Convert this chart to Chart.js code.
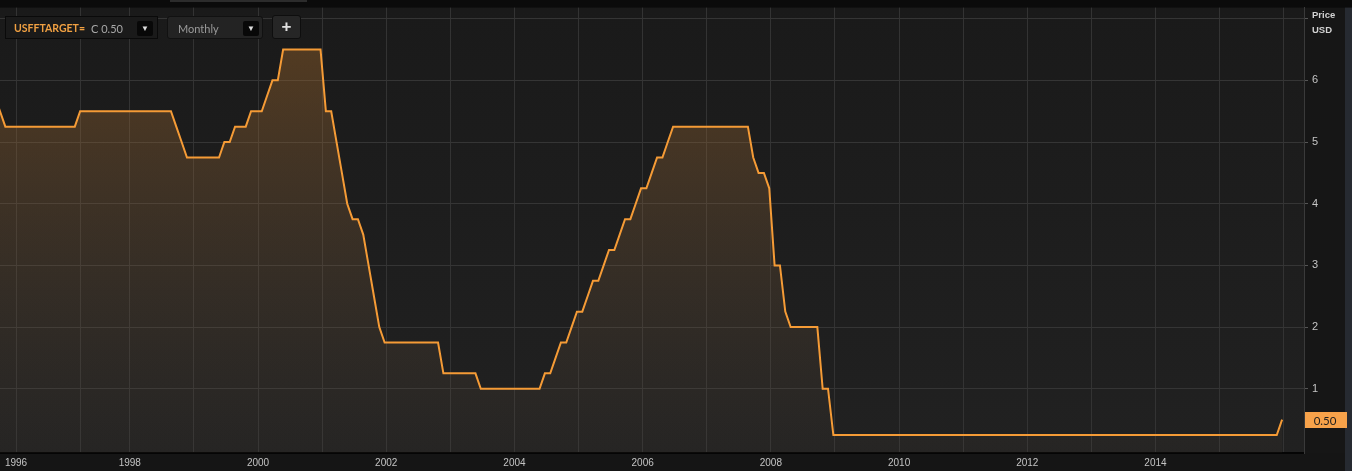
<!DOCTYPE html>
<html>
<head>
<meta charset="utf-8">
<script src="https://cdn.jsdelivr.net/npm/chart.js@4.4.1/dist/chart.umd.min.js"></script>
<style>
  html, body { margin: 0; padding: 0; background: #0b0b0b; }
  body { width: 1352px; height: 471px; position: relative; overflow: hidden; font-family: "Liberation Sans", Arial, sans-serif; }
  #topbar { position: absolute; left: 0; top: 0; width: 1352px; height: 7px; background: #0b0b0b; }
  #topbar .tab { position: absolute; left: 170px; top: 0; width: 137px; height: 2px; background: #2c2c2c; }
  #wrap { position: absolute; left: 0; top: -3px; width: 1352px; height: 474px; }
  .ctl { position: absolute; top: 16px; height: 23px; box-sizing: border-box; font-size: 11px; line-height: 23px; }
  #ric { left: 5px; width: 153px; background: #1a1a1a; border: 1px solid #0a0a0a; }
  #ric .code { position: absolute; left: 8px; color: #f0a042; font-family: Lato, sans-serif; font-weight: bold; font-size: 10.5px; }
  #ric .val { position: absolute; left: 85px; color: #a8a8a8; font-family: Lato, sans-serif; font-size: 11px; }
  .drop { position: absolute; top: 4px; width: 16px; height: 15px; background: #080808; border-radius: 2px; color: #ddd; font-size: 8px; line-height: 15px; text-align: center; }
  #freq { left: 167px; width: 96px; background: #232323; border: 1px solid #111; border-radius: 3px; }
  #freq .val { position: absolute; left: 10px; color: #9a9a9a; font-family: Lato, sans-serif; }
  #plus { left: 272px; top: 15px; width: 29px; height: 24px; background: #262626; border: 1px solid #0e0e0e; border-radius: 3px; color: #e0e0e0; font-size: 17px; font-weight: bold; text-align: center; line-height: 22px; }
  .axtitle { position: absolute; left: 1312px; color: #d2d2d2; font-size: 9.5px; font-weight: bold; }
</style>
</head>
<body>
<div id="wrap"><canvas id="rate-chart"></canvas></div>
<div id="topbar"><div class="tab"></div></div>
<div class="ctl" id="ric"><span class="code">USFFTARGET=</span><span class="val">C 0.50</span><div class="drop" style="left:131px">&#9660;</div></div>
<div class="ctl" id="freq"><span class="val">Monthly</span><div class="drop" style="left:75px">&#9660;</div></div>
<div class="ctl" id="plus">+</div>
<div class="axtitle" style="top:9px">Price</div>
<div class="axtitle" style="top:24px">USD</div>
<script>
// monthly samples of the fed funds target, Nov 1995 .. Dec 2015
const firstMonth = { year: 1995, month: 10 }; // Nov 1995 (0-based month)
const rates = [
  5.75, 5.50,                                                       // 1995 Nov-Dec
  5.25, 5.25, 5.25, 5.25, 5.25, 5.25, 5.25, 5.25, 5.25, 5.25, 5.25, 5.25, // 1996
  5.25, 5.25, 5.50, 5.50, 5.50, 5.50, 5.50, 5.50, 5.50, 5.50, 5.50, 5.50, // 1997
  5.50, 5.50, 5.50, 5.50, 5.50, 5.50, 5.50, 5.50, 5.25, 5.00, 4.75, 4.75, // 1998
  4.75, 4.75, 4.75, 4.75, 4.75, 5.00, 5.00, 5.25, 5.25, 5.25, 5.50, 5.50, // 1999
  5.50, 5.75, 6.00, 6.00, 6.50, 6.50, 6.50, 6.50, 6.50, 6.50, 6.50, 6.50, // 2000
  5.50, 5.50, 5.00, 4.50, 4.00, 3.75, 3.75, 3.50, 3.00, 2.50, 2.00, 1.75, // 2001
  1.75, 1.75, 1.75, 1.75, 1.75, 1.75, 1.75, 1.75, 1.75, 1.75, 1.25, 1.25, // 2002
  1.25, 1.25, 1.25, 1.25, 1.25, 1.00, 1.00, 1.00, 1.00, 1.00, 1.00, 1.00, // 2003
  1.00, 1.00, 1.00, 1.00, 1.00, 1.25, 1.25, 1.50, 1.75, 1.75, 2.00, 2.25, // 2004
  2.25, 2.50, 2.75, 2.75, 3.00, 3.25, 3.25, 3.50, 3.75, 3.75, 4.00, 4.25, // 2005
  4.25, 4.50, 4.75, 4.75, 5.00, 5.25, 5.25, 5.25, 5.25, 5.25, 5.25, 5.25, // 2006
  5.25, 5.25, 5.25, 5.25, 5.25, 5.25, 5.25, 5.25, 4.75, 4.50, 4.50, 4.25, // 2007
  3.00, 3.00, 2.25, 2.00, 2.00, 2.00, 2.00, 2.00, 2.00, 1.00, 1.00, 0.25, // 2008
  0.25, 0.25, 0.25, 0.25, 0.25, 0.25, 0.25, 0.25, 0.25, 0.25, 0.25, 0.25, // 2009
  0.25, 0.25, 0.25, 0.25, 0.25, 0.25, 0.25, 0.25, 0.25, 0.25, 0.25, 0.25, // 2010
  0.25, 0.25, 0.25, 0.25, 0.25, 0.25, 0.25, 0.25, 0.25, 0.25, 0.25, 0.25, // 2011
  0.25, 0.25, 0.25, 0.25, 0.25, 0.25, 0.25, 0.25, 0.25, 0.25, 0.25, 0.25, // 2012
  0.25, 0.25, 0.25, 0.25, 0.25, 0.25, 0.25, 0.25, 0.25, 0.25, 0.25, 0.25, // 2013
  0.25, 0.25, 0.25, 0.25, 0.25, 0.25, 0.25, 0.25, 0.25, 0.25, 0.25, 0.25, // 2014
  0.25, 0.25, 0.25, 0.25, 0.25, 0.25, 0.25, 0.25, 0.25, 0.25, 0.25, 0.50  // 2015
];

// x axis: months since Jan 2000; year grid positions and labels
const gridYears = [1996, 1997, 1998, 1999, 2000, 2001, 2002, 2003, 2004, 2005, 2006,
  2007, 2008, 2009, 2010, 2011, 2012, 2013, 2014, 2015, 2016];
const labelYears = [1996, 1998, 2000, 2002, 2004, 2006, 2008, 2010, 2012, 2014];
const earlyGridShift = { 1996: 2.7, 1997: 2.7 }; // first two grid lines sit a bit later
const yTicks = [1, 2, 3, 4, 5, 6, 7];
const yLabels = ['1', '2', '3', '4', '5', '6', ''];

const SAMPLE_OFFSET = 0.7; // samples sit late in the month
const startIndex = (firstMonth.year - 2000) * 12 + firstMonth.month;
const points = rates.map((v, i) => ({ x: startIndex + i + SAMPLE_OFFSET, y: v }));

const gridPos = gridYears.map((y) => (y - 2000) * 12 + (earlyGridShift[y] || 0));
const labelAt = {};
gridYears.forEach((y, i) => { if (labelYears.includes(y)) labelAt[gridPos[i].toFixed(2)] = String(y); });

const areaBg = {
  id: 'areaBg',
  beforeDraw(chart) {
    const { ctx, chartArea: a } = chart;
    ctx.save();
    const g = ctx.createLinearGradient(0, a.top, 0, a.bottom);
    g.addColorStop(0, '#1a1a1a');
    g.addColorStop(1, '#212121');
    ctx.fillStyle = g;
    ctx.fillRect(a.left, a.top, a.right - a.left, a.bottom - a.top);
    ctx.fillStyle = '#161616';
    ctx.fillRect(a.right, a.top, chart.width - a.right, a.bottom - a.top);
    ctx.fillStyle = '#151515';
    ctx.fillRect(0, a.bottom, chart.width, chart.height - a.bottom);
    ctx.fillStyle = '#262a31';
    ctx.fillRect(1345, a.top, chart.width - 1345, chart.height - a.top);
    ctx.restore();
  }
};

const lastValueTag = {
  id: 'lastValueTag',
  afterDraw(chart) {
    const { ctx, chartArea: a, scales } = chart;
    const last = rates[rates.length - 1];
    const yPix = Math.round(scales.y.getPixelForValue(last));
    ctx.save();
    ctx.fillStyle = '#f7a24a';
    ctx.fillRect(a.right + 1, yPix - 8, 42, 16);
    ctx.fillStyle = '#1e1e1e';
    ctx.font = '11.5px Lato, sans-serif';
    ctx.textBaseline = 'middle';
    ctx.textAlign = 'center';
    ctx.fillText(last.toFixed(2), a.right + 21, yPix + 1);
    ctx.restore();
  }
};

new Chart(document.getElementById('rate-chart'), {
  type: 'line',
  data: {
    datasets: [{
      label: 'USFFTARGET=',
      data: points,
      borderColor: '#f59b36',
      borderWidth: 2,
      pointRadius: 0,
      tension: 0,
      fill: 'start',
      backgroundColor(context) {
        const a = context.chart.chartArea;
        if (!a) return 'rgba(150,100,40,0.3)';
        const g = context.chart.ctx.createLinearGradient(0, a.top, 0, a.bottom);
        g.addColorStop(0, 'rgba(168,106,40,0.44)');
        g.addColorStop(1, 'rgba(120,100,80,0.06)');
        return g;
      }
    }]
  },
  options: {
    responsive: true,
    maintainAspectRatio: false,
    animation: false,
    layout: { padding: 0, autoPadding: false },
    plugins: { legend: { display: false }, tooltip: { enabled: false } },
    scales: {
      x: {
        type: 'linear',
        min: -48.3,
        max: 195.8,
        afterBuildTicks(scale) { scale.ticks = gridPos.map((v) => ({ value: v })); },
        afterFit(scale) { scale.height = 18; },
        grid: { color: '#333333', lineWidth: 1, drawTicks: false },
        border: { display: true, color: '#050505', width: 2 },
        ticks: {
          autoSkip: false,
          maxRotation: 0,
          padding: 4,
          color: '#c4c4c4',
          font: { family: '"Liberation Sans", Arial, sans-serif', size: 10 },
          callback: (v) => labelAt[Number(v).toFixed(2)] || ''
        }
      },
      y: {
        position: 'right',
        min: -0.042,
        max: 7.18,
        afterBuildTicks(scale) { scale.ticks = yTicks.map((v) => ({ value: v })); },
        afterFit(scale) { scale.width = 48; },
        grid: { color: '#353535', lineWidth: 1, drawTicks: true, tickLength: 4, tickColor: '#555555' },
        border: { display: true, color: '#3a3a3a', width: 1 },
        ticks: {
          padding: 4,
          color: '#c4c4c4',
          font: { family: '"Liberation Sans", Arial, sans-serif', size: 11 },
          callback: (v) => yLabels[yTicks.indexOf(v)] ?? ''
        }
      }
    }
  },
  plugins: [areaBg, lastValueTag]
});
</script>
</body>
</html>
